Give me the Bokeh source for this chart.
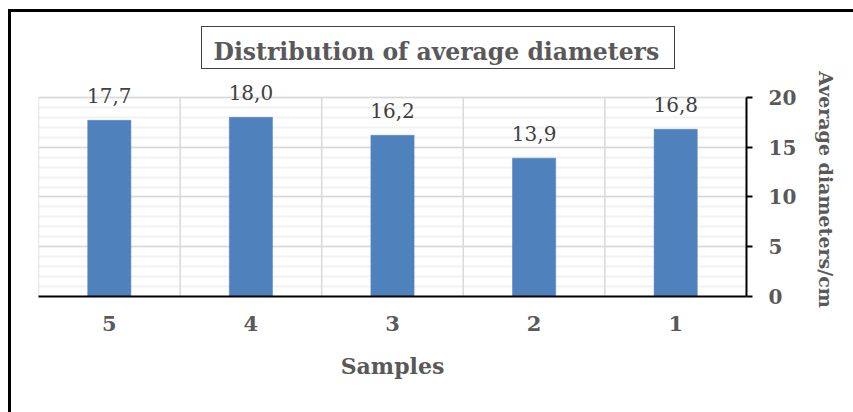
import numpy as np
from bokeh.plotting import figure
from bokeh.models import (Range1d, FixedTicker, LinearAxis, ColumnDataSource,
                          InlineStyleSheet)
from bokeh.embed import file_html
from bokeh.resources import INLINE
from bokeh.core.properties import value

samples = ["5", "4", "3", "2", "1"]
diameters = [17.7, 18.0, 16.2, 13.9, 16.8]
y_ticks = [0, 5, 10, 15, 20]
title_text = "Distribution of average diameters"
x_title = "Samples"
y_title = "Average diameters/cm"

FONT = "DejaVu Serif"
W, H = 853, 412
Y_MAX = 20
Y_TOP = 21.5                    # headroom above the gridded area for data labels
PX_PER_UNIT = (296 - 97) / Y_MAX
FL, FR, FB = 38, 746, 296
FT = FB - Y_TOP * PX_PER_UNIT   # frame top in canvas pixels

n = len(samples)
xs = np.arange(n) + 0.5
labels = [f"{v:.1f}".replace(".", ",") for v in diameters]
src = ColumnDataSource(dict(x=xs, top=diameters, lab=labels))

# chart-area border (top/left edges) and the box around the title
frame_css = InlineStyleSheet(css="""
:host { position: relative; }
:host::after {
  content: "";
  position: absolute;
  left: 8px; top: 9px; right: 0px; bottom: 0px;
  border-left: 3px solid #000000;
  border-top: 3px solid #000000;
  pointer-events: none;
  z-index: 10;
}
:host::before {
  content: "";
  position: absolute;
  left: 201px; top: 26px; width: 474px; height: 43px;
  box-sizing: border-box;
  border: 1.5px solid #404040;
  background: transparent;
  pointer-events: none;
  z-index: 10;
}
""")

p = figure(width=W, height=H, output_backend="svg", toolbar_location=None,
           x_range=Range1d(0, n), y_range=Range1d(0, Y_TOP),
           x_axis_location="below", y_axis_location=None,
           min_border_left=FL, min_border_right=W - FR,
           min_border_top=int(round(FT)), min_border_bottom=H - FB,
           stylesheets=[frame_css])
p.outline_line_color = None
p.background_fill_color = "white"
p.border_fill_color = "white"

# title
p.title.text = title_text
p.title.align = "left"
p.title.offset = 175
p.title.standoff = 34
p.title.text_font = FONT
p.title.text_font_style = "bold"
p.title.text_font_size = "23.5px"
p.title.text_color = "#595959"

# grids
p.xgrid.visible = False
p.ygrid.ticker = FixedTicker(ticks=y_ticks, minor_ticks=list(range(0, Y_MAX + 1)))
p.ygrid.grid_line_color = "#D9D9D9"
p.ygrid.grid_line_width = 1.5
p.ygrid.minor_grid_line_color = "#F2F2F2"
p.ygrid.minor_grid_line_width = 2
bounds = list(range(n + 1))
p.segment(x0=bounds, x1=bounds, y0=[0] * (n + 1), y1=[Y_MAX] * (n + 1),
          line_color="#D9D9D9", line_width=1.5)

# bars
p.vbar(x="x", top="top", width=0.305, bottom=0, source=src,
       fill_color="#4F81BD", line_color="#4F81BD", line_width=0.5)

# data labels
p.text(x="x", y="top", text="lab", source=src, text_align="center",
       text_baseline="alphabetic", y_offset=-25,
       text_font=value(FONT), text_font_size="20px", text_color="#404040")

# x axis
xa = p.xaxis[0]
xa.ticker = FixedTicker(ticks=list(xs))
xa.major_label_overrides = {float(x): s for x, s in zip(xs, samples)}
xa.major_tick_out = 0
xa.major_tick_in = 0
xa.minor_tick_out = 0
xa.minor_tick_in = 0
xa.major_label_standoff = 19
xa.major_label_text_font = FONT
xa.major_label_text_font_style = "bold"
xa.major_label_text_font_size = "21px"
xa.major_label_text_color = "#595959"
xa.axis_line_color = "black"
xa.axis_line_width = 2
xa.axis_label = x_title
xa.axis_label_standoff = 19
xa.axis_label_text_font = FONT
xa.axis_label_text_font_style = "bold"
xa.axis_label_text_font_size = "22px"
xa.axis_label_text_color = "#595959"

# y axis on right
ya = LinearAxis(ticker=FixedTicker(ticks=y_ticks), bounds=(0, Y_MAX))
ya.major_tick_out = 6
ya.major_tick_in = 0
ya.minor_tick_out = 0
ya.minor_tick_in = 0
ya.major_tick_line_width = 2
ya.axis_line_width = 2
ya.axis_line_color = "black"
ya.major_label_standoff = 16
ya.major_label_text_font = FONT
ya.major_label_text_font_style = "bold"
ya.major_label_text_font_size = "20px"
ya.major_label_text_color = "#595959"
ya.axis_label = y_title
ya.axis_label_standoff = 16
ya.axis_label_text_font = FONT
ya.axis_label_text_font_style = "bold"
ya.axis_label_text_font_size = "19px"
ya.axis_label_text_color = "#595959"
p.add_layout(ya, "right")

open("out.html", "w").write(file_html(p, INLINE))
